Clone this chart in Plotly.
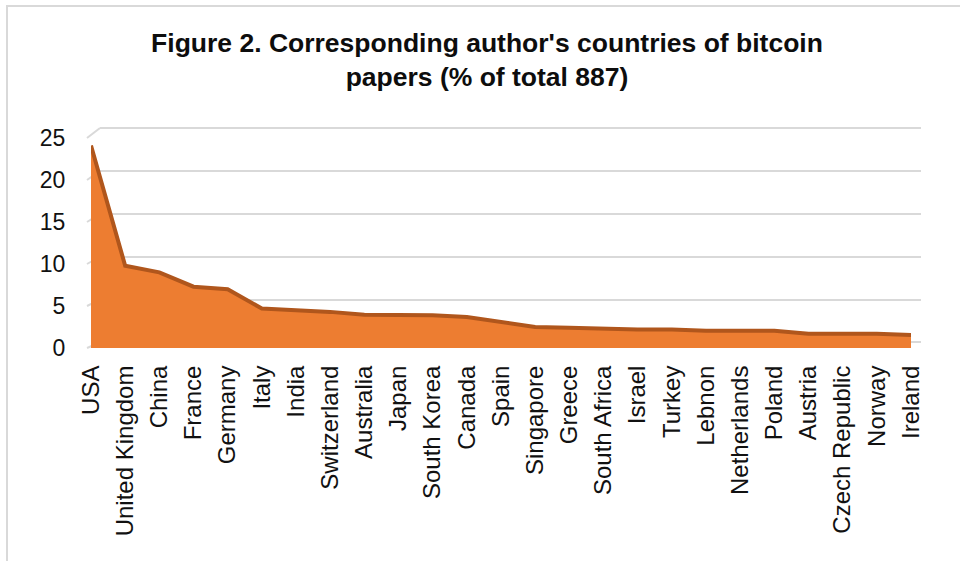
import plotly.graph_objects as go

countries = ["USA", "United Kingdom", "China", "France", "Germany", "Italy", "India",
             "Switzerland", "Australia", "Japan", "South Korea", "Canada", "Spain",
             "Singapore", "Greece", "South Africa", "Israel", "Turkey", "Lebnon",
             "Netherlands", "Poland", "Austria", "Czech Republic", "Norway", "Ireland"]
share_pct = [24.1, 9.8, 9.0, 7.3, 7.0, 4.7, 4.5, 4.3, 3.96, 3.9, 3.9, 3.7, 3.1,
             2.5, 2.4, 2.25, 2.2, 2.2, 2.05, 2.05, 2.05, 1.7, 1.7, 1.7, 1.55]
y_ticks = [0, 5, 10, 15, 20, 25]

W, H = 960, 561
L, R, T, B = 80, 30, 110, 200
pw, ph = W - L - R, H - T - B
BOT = H - B  # pixel row of plot-area bottom

FONT = "Liberation Sans, Arial, sans-serif"
GRID = "#d9d9d9"

# pixel geometry of the two planes (front = data face, back = grid wall)
FRONT_X = (91, 911)
FRONT_Y0, FRONT_Y25 = 348, 138
BACK_X = (100, 921)
BACK_Y0, BACK_Y25 = 342.5, 128
PAD = 0.3  # extra range on back wall so edge gridlines are not clipped
back_unit = (BACK_Y0 - BACK_Y25) / 25.0
front_unit = (FRONT_Y0 - FRONT_Y25) / 25.0

fig = go.Figure()

# back wall subplot (x/y): carries the gridlines only
fig.add_trace(go.Scatter(x=countries, y=[None] * len(countries), xaxis="x", yaxis="y",
                         showlegend=False, hoverinfo="skip"))

# front subplot (x2/y2): the area series
fig.add_trace(go.Scatter(
    x=countries, y=share_pct, mode="lines", fill="tozeroy", xaxis="x2", yaxis="y2",
    fillcolor="#ED7D31", line=dict(color="#B0561C", width=4),
    showlegend=False,
))

def xdom(a, b):
    return [(a - L) / pw, (b - L) / pw]

def ydom(bottom_px, top_px):
    return [(BOT - bottom_px) / ph, (BOT - top_px) / ph]

fig.update_layout(
    width=W, height=H,
    margin=dict(l=L, r=R, t=T, b=B),
    paper_bgcolor="white", plot_bgcolor="rgba(0,0,0,0)",
    font=dict(family=FONT, color="#111111"),
    title=dict(
        text="Figure 2. Corresponding author's countries of bitcoin<br>papers (% of total 887)",
        font=dict(family=FONT, size=26.5, color="#0d0d0d", weight="bold"),
        x=487 / W, xanchor="center", xref="container",
        y=1 - 52 / H, yanchor="middle", yref="container",
    ),
    xaxis=dict(
        type="category", domain=xdom(*BACK_X), range=[0, len(countries) - 1],
        anchor="y", visible=False,
    ),
    yaxis=dict(
        domain=ydom(BACK_Y0 + PAD * back_unit, BACK_Y25 - PAD * back_unit),
        range=[-PAD, 25 + PAD], tickvals=y_ticks, anchor="x",
        showticklabels=False, ticks="",
        showgrid=True, gridcolor=GRID, gridwidth=2,
        zeroline=False, showline=False,
    ),
    xaxis2=dict(
        type="category", domain=xdom(*FRONT_X), range=[0, len(countries) - 1],
        anchor="y2",
        showgrid=False, zeroline=False, showline=False,
        tickangle=-90, tickfont=dict(size=24, color="#111111"),
        ticks="outside", ticklen=7, tickcolor="rgba(0,0,0,0)",
    ),
    yaxis2=dict(
        domain=ydom(FRONT_Y0, FRONT_Y25), range=[0, 25], tickvals=y_ticks,
        anchor="x2",
        showgrid=False, zeroline=False, showline=False,
        tickfont=dict(size=23, color="#111111"),
        ticks="outside", ticklen=20, tickcolor="rgba(0,0,0,0)",
    ),
)

def px_x(p):
    return (p - L) / pw

def px_y(p):
    return 1 - (p - T) / ph

shapes = []
# side-wall connectors from front corner to back gridlines
for v in y_ticks:
    shapes.append(dict(
        type="line", xref="paper", yref="paper",
        x0=px_x(87), x1=px_x(BACK_X[0]),
        y0=px_y(FRONT_Y0 - v * front_unit), y1=px_y(BACK_Y0 - v * back_unit),
        line=dict(color=GRID, width=2), layer="below",
    ))

# outer chart border (top and left edges)
shapes.append(dict(type="line", xref="paper", yref="paper",
                   x0=px_x(6), x1=px_x(960), y0=px_y(6), y1=px_y(6),
                   line=dict(color=GRID, width=2)))
shapes.append(dict(type="line", xref="paper", yref="paper",
                   x0=px_x(7), x1=px_x(7), y0=px_y(6), y1=px_y(561),
                   line=dict(color=GRID, width=2)))
fig.update_layout(shapes=shapes)

fig.write_html("out.html")
